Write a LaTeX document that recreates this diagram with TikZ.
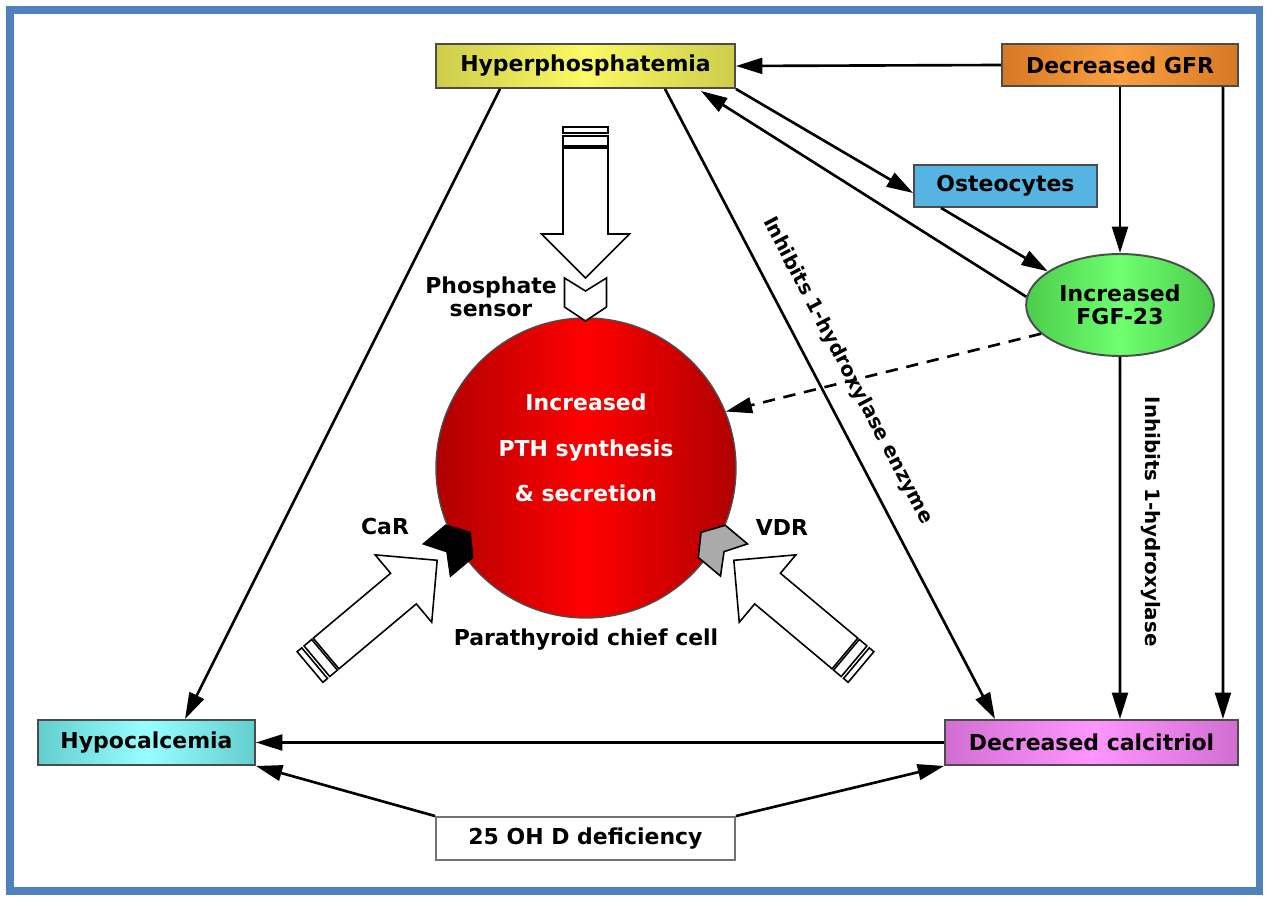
\documentclass[tikz,border=0pt]{standalone}
\usepackage{fontspec}
\setmainfont{DejaVu Sans}
\usetikzlibrary{arrows.meta,shapes.geometric,calc}

\definecolor{frameblue}{RGB}{79,129,189}
\definecolor{hypdk}{RGB}{205,205,75}
\definecolor{hyplt}{RGB}{250,250,100}
\definecolor{gfrdk}{RGB}{215,120,35}
\definecolor{gfrlt}{RGB}{250,160,65}
\definecolor{osteoblue}{RGB}{85,180,225}
\definecolor{fgfdk}{RGB}{75,205,75}
\definecolor{fgflt}{RGB}{110,255,110}
\definecolor{pthdk}{RGB}{175,0,0}
\definecolor{pthlt}{RGB}{255,0,0}
\definecolor{hypodk}{RGB}{100,205,205}
\definecolor{hypolt}{RGB}{150,255,255}
\definecolor{calcdk}{RGB}{210,110,210}
\definecolor{calclt}{RGB}{255,150,255}
\definecolor{vdrgray}{RGB}{170,170,170}

\tikzset{
  box/.style={draw=black!70,line width=1.1pt,minimum height=0.86cm},
  glow/.style 2 args={left color=#1,right color=#1,middle color=#2},
  link/.style={-{Triangle[length=15pt,width=9pt]},line width=1.5pt},
  tag/.style={sloped,above=8pt,font=\bfseries\fontsize{11.3}{13}\selectfont},
}

% hollow block arrow: tail, angle, length, shaft half width, head size
\newcommand{\hollowarrow}[5]{%
  \begin{scope}[shift={#1},rotate=#2,line width=0.9pt]
    \draw[fill=white] (0,-#4) rectangle (6,#4);
    \draw[fill=white] (9,-#4) rectangle (19,#4);
    \draw[fill=white] (21,-#4) -- (#3-#5,-#4) -- (#3-#5,-#5) -- (#3,0)
      -- (#3-#5,#5) -- (#3-#5,#4) -- (21,#4) -- cycle;
  \end{scope}}
% receptor chevron: back point, angle, fill
\newcommand{\receptor}[3]{%
  \draw[fill=#3,line width=0.9pt,shift={#1},rotate=#2]
    (0,21) -- (13,0) -- (0,-21) -- (29,-21) -- (43,0) -- (29,21) -- cycle;}

\begin{document}
\begin{tikzpicture}[x=0.02cm,y=-0.02cm,font=\bfseries\fontsize{12.5}{15}\selectfont]
  \useasboundingbox (0,0) rectangle (1268,898);
  \draw[frameblue,line width=4pt] (10,10) rectangle (1259,891);

  % boxes
  \node[box,glow={hypdk}{hyplt},minimum width=5.98cm,minimum height=0.88cm] (hyper) at (585.5,66) {Hyperphosphatemia};
  \node[box,glow={gfrdk}{gfrlt},minimum width=4.72cm,minimum height=0.84cm] (gfr) at (1120,65) {Decreased GFR};
  \node[box,fill=osteoblue,minimum width=3.66cm,minimum height=0.84cm] (osteo) at (1005.5,186) {Osteocytes};
  \node[ellipse,box,glow={fgfdk}{fgflt},minimum width=3.26cm,minimum height=2.04cm,align=center,
        font=\bfseries\fontsize{12.5}{13}\selectfont] (fgf) at (1120,305) {Increased\\FGF-23};
  \node[box,glow={hypodk}{hypolt},minimum width=4.34cm,minimum height=0.9cm] (hypo) at (146.5,742.5) {Hypocalcemia};
  \node[box,glow={calcdk}{calclt},minimum width=5.86cm,minimum height=0.9cm] (calc) at (1091.5,742.5) {Decreased calcitriol};
  \node[box,draw=black!55,fill=white,minimum width=5.98cm] (deff) at (585.5,838.5) {25 OH D deficiency};

  % parathyroid cell
  \hollowarrow{(585.5,127)}{-90}{151}{22.5}{44}
  \hollowarrow{(310,667)}{40}{166}{20}{44}
  \hollowarrow{(861,667)}{140}{166}{20}{44}
  \node[circle,draw=black!70,line width=0.8pt,glow={pthdk}{pthlt},minimum size=6cm] (pth) at (586,468) {};
  \receptor{(585.5,278)}{-90}{white}
  \receptor{(437,560)}{40}{black}
  \receptor{(734,560)}{140}{vdrgray}
  \node[white,align=center,font=\bfseries\fontsize{12.5}{26}\selectfont] (pthtext) at (586,448)
    {Increased\\PTH synthesis\\\& secretion};
  \node[align=center,font=\bfseries\fontsize{12.5}{13}\selectfont] (sensor) at (491,297) {Phosphate\\sensor};
  \node (car) at (385,527) {CaR};
  \node (vdr) at (782,527) {VDR};
  \node (chief) at (586,640) {Parathyroid chief cell};

  % connectors
  \draw[link] (gfr.west) -- (hyper.east);
  \draw[link] (gfr.south) -- (fgf.north);
  \draw[link] ($(gfr.south east)+(-16,0)$) -- ($(calc.north east)+(-16,0)$);
  \draw[link] (hyper.south east) -- ($(osteo.west)+(0,7)$);
  \draw[link] ($(osteo.south west)+(28,0)$) -- (fgf.155);
  \draw[link] (fgf.175) -- ($(hyper.south east)+(-35,2)$);
  \draw[link,dash pattern=on 7pt off 5pt] (fgf.200) -- (pth.22);
  \draw[link] (fgf.south) -- ($(calc.north)+(28.5,0)$)
    node[tag,allow upside down,pos=0.455] {Inhibits 1-hydroxylase};
  \draw[link] ($(hyper.south)+(-85.5,0)$) -- ($(hypo.north)+(38.5,0)$);
  \draw[link] ($(hyper.south)+(79.5,0)$) -- ($(calc.north)+(-96.5,0)$)
    node[tag,pos=0.47] {Inhibits 1-hydroxylase enzyme};
  \draw[link] (calc) -- (hypo);
  \draw[link] (deff.north west) -- (hypo.south east);
  \draw[link] (deff.north east) -- (calc.south west);
\end{tikzpicture}
\end{document}
